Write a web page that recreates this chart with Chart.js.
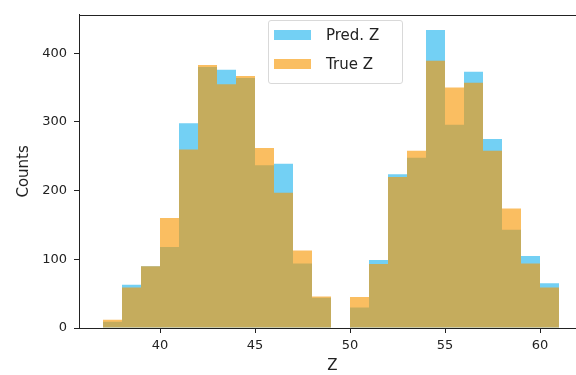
<!DOCTYPE html>
<html>
<head>
<meta charset="utf-8">
<script src="https://cdn.jsdelivr.net/npm/chart.js@4.4.1/dist/chart.umd.min.js"></script>
<style>
  html, body { margin: 0; padding: 0; background: #fff; overflow: hidden; }
  .wrap { position: relative; width: 600px; height: 375px; }
  .legend {
    position: absolute; left: 268px; top: 20px; width: 133px; height: 62px;
    border: 1px solid #d9d9d9; border-radius: 3px; background: rgba(255,255,255,0.8);
    font-family: "DejaVu Sans", sans-serif; font-size: 15px; color: #222;
  }
  .legend .row { position: absolute; left: 0; height: 20px; line-height: 20px; }
  .legend .sw { position: absolute; left: 5px; top: 5px; width: 37px; height: 10px; }
  .legend .txt { position: absolute; left: 57px; top: 0; white-space: nowrap; }
</style>
</head>
<body>
<div class="wrap">
  <canvas id="histChart" width="600" height="375"></canvas>
  <div class="legend" id="legend"></div>
</div>
<script>
// histogram bins (left edges, width 1)
const binStarts = [37, 38, 39, 40, 41, 42, 43, 44, 45, 46, 47, 48, 49, 50, 51, 52, 53, 54, 55, 56, 57, 58, 59, 60];
const binWidth = 1;
const predCounts = [9, 63, 90, 118, 298, 380, 376, 364, 237, 239, 94, 44, 0, 30, 99, 224, 248, 434, 296, 373, 275, 143, 105, 65];
const trueCounts = [12, 59, 90, 160, 260, 383, 355, 367, 262, 197, 113, 46, 0, 45, 93, 220, 258, 389, 350, 357, 258, 174, 94, 59];
const xTicks = [40, 45, 50, 55, 60];
const yTicks = [0, 100, 200, 300, 400];

const predColor = "rgba(0, 170, 235, 0.55)";
const trueColor = "rgba(247, 150, 0, 0.62)";
const inkColor = "#222";
const font = "DejaVu Sans";

// x range picked so one bin is a whole number of pixels (no seams)
const xMin = 40 - 81 / 19;
const xMax = xMin + 507 / 19;

function toPoints(counts) {
  return binStarts.map((b, i) => ({ x: b + binWidth / 2, y: counts[i] }));
}

// html legend (Pred first, True second)
const legendItems = [
  { label: "Pred. Z", color: predColor },
  { label: "True Z", color: trueColor },
];
const legend = document.getElementById("legend");
legendItems.forEach((item, i) => {
  const row = document.createElement("div");
  row.className = "row";
  row.style.top = (4 + i * 29) + "px";
  row.style.width = "100%";
  row.innerHTML = '<span class="sw" style="background:' + item.color + '"></span><span class="txt">' + item.label + "</span>";
  legend.appendChild(row);
});

// top + right spines
const framePlugin = {
  id: "frame",
  afterDraw(chart) {
    const { ctx, chartArea } = chart;
    ctx.save();
    ctx.strokeStyle = inkColor;
    ctx.lineWidth = 1;
    const y = Math.round(chartArea.top) + 0.5;
    const x = Math.round(chartArea.right) - 0.5;
    ctx.beginPath();
    ctx.moveTo(chartArea.left, y);
    ctx.lineTo(x, y);
    ctx.lineTo(x, chartArea.bottom);
    ctx.stroke();
    ctx.restore();
  },
};

const ctx = document.getElementById("histChart").getContext("2d");
new Chart(ctx, {
  type: "bar",
  data: {
    datasets: [
      {
        label: "True Z",
        data: toPoints(trueCounts),
        backgroundColor: trueColor,
        grouped: false,
        barPercentage: 1,
        categoryPercentage: 1,
        borderWidth: 0,
        inflateAmount: 0,
      },
      {
        label: "Pred. Z",
        data: toPoints(predCounts),
        backgroundColor: predColor,
        grouped: false,
        barPercentage: 1,
        categoryPercentage: 1,
        borderWidth: 0,
        inflateAmount: 0,
      },
    ],
  },
  options: {
    responsive: false,
    animation: false,
    layout: { padding: { top: 10, right: 14, left: 0, bottom: 0 } },
    plugins: {
      legend: { display: false },
      tooltip: { enabled: false },
    },
    scales: {
      x: {
        type: "linear",
        min: xMin,
        max: xMax,
        offset: false,
        afterBuildTicks: (scale) => {
          scale.ticks = xTicks.map((v) => ({ value: v }));
        },
        afterFit: (scale) => {
          scale.height = 47;
        },
        grid: { offset: false, drawOnChartArea: false, drawTicks: true, tickLength: 5, color: inkColor },
        border: { display: true, color: inkColor, width: 1 },
        ticks: { color: inkColor, padding: 5, font: { family: font, size: 13 }, maxRotation: 0 },
        title: {
          display: true,
          text: "Z",
          color: inkColor,
          font: { family: font, size: 15 },
          padding: { top: 0, bottom: 0 },
        },
      },
      y: {
        min: 0,
        max: 456,
        afterBuildTicks: (scale) => {
          scale.ticks = yTicks.map((v) => ({ value: v }));
        },
        afterFit: (scale) => {
          scale.width = 79;
        },
        grid: { drawOnChartArea: false, drawTicks: true, tickLength: 5, color: inkColor },
        border: { display: true, color: inkColor, width: 1 },
        ticks: { color: inkColor, padding: 7, font: { family: font, size: 13 } },
        title: {
          display: true,
          text: "Counts",
          color: inkColor,
          font: { family: font, size: 15 },
          padding: { top: 15, bottom: 0 },
        },
      },
    },
  },
  plugins: [framePlugin],
});
</script>
</body>
</html>
